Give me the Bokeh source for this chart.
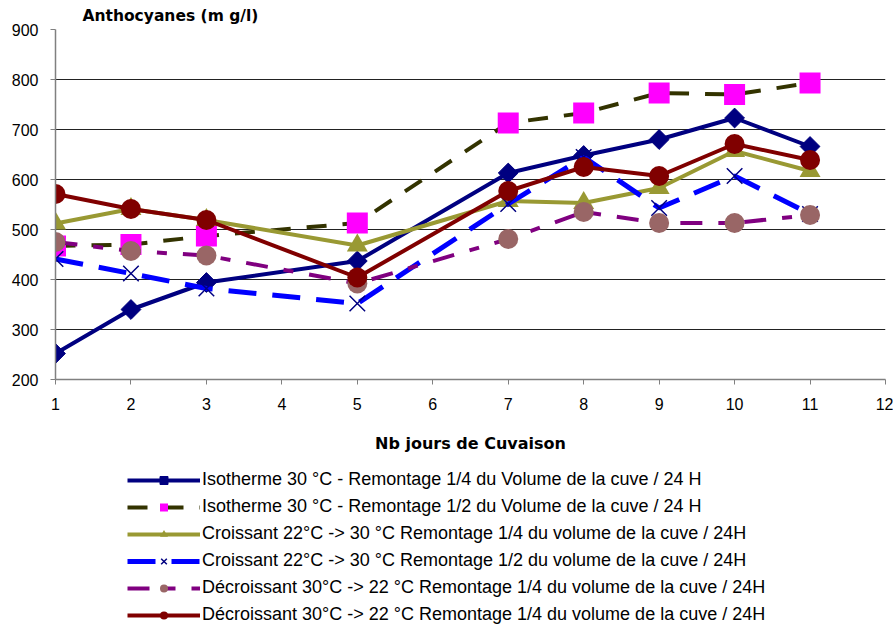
import math
from bokeh.plotting import figure
from bokeh.layouts import column
from bokeh.models import Range1d, Legend, LegendItem, FixedTicker
from bokeh.embed import file_html
from bokeh.resources import INLINE

# ---- data ----
days = [1, 2, 3, 5, 7, 8, 9, 10, 11]
iso_quart = [252, 340, 394, 437, 613, 648, 680, 723, 666]
iso_demi = [467, 470, 487, 513, 713, 733, 773, 770, 793]
cro_quart = [512, 541, 519, 468, 557, 553, 583, 657, 617]
cro_demi = [441, 412, 382, 352, 551, 645, 543, 607, 531]
dec_quart_a = [475, 457, 448, 392, 481, 535, 513, 513, 529]
dec_quart_b = [571, 541, 519, 404, 577, 625, 607, 671, 639]

labels = [
    "Isotherme 30 °C - Remontage 1/4 du Volume de la cuve / 24 H",
    "Isotherme 30 °C - Remontage 1/2 du Volume de la cuve / 24 H",
    "Croissant 22°C -> 30 °C Remontage 1/4 du volume de la cuve / 24H",
    "Croissant 22°C -> 30 °C Remontage 1/2 du volume de la cuve / 24H",
    "Décroissant 30°C -> 22 °C Remontage 1/4 du volume de la cuve / 24H",
    "Décroissant 30°C -> 22 °C Remontage 1/4 du volume de la cuve / 24H",
]
x_ticks = list(range(1, 13))
y_ticks = list(range(200, 1000, 100))

series_data = [iso_quart, iso_demi, cro_quart, cro_demi, dec_quart_a, dec_quart_b]
styles = [
    dict(lc="#000080", lw=4, dash="solid", m="square", ms=14, mf="#000080", ml="#000080", mlw=1, ang=math.pi / 4),
    dict(lc="#333300", lw=4, dash="20 16", m="square", ms=21, mf="#FF00FF", ml="#FF00FF", mlw=0, ang=0),
    dict(lc="#999933", lw=4, dash="solid", m="triangle", ms=21, mf="#999933", ml="#999933", mlw=0, ang=0),
    dict(lc="#0000FF", lw=5, dash="28 16", m="x", ms=22, mf=None, ml="#000080", mlw=1.5, ang=0),
    dict(lc="#800080", lw=4, dash="22 16 10 16", m="circle", ms=20, mf="#996666", ml="#996666", mlw=0, ang=0),
    dict(lc="#800000", lw=4, dash="solid", m="circle", ms=20, mf="#800000", ml="#800000", mlw=0, ang=0),
]

# ---- main chart ----
p = figure(width=893, height=460, x_range=Range1d(1, 12), y_range=Range1d(200, 900),
           output_backend="svg", toolbar_location=None,
           min_border_left=55, min_border_right=8, min_border_top=28, min_border_bottom=81)
p.outline_line_color = None
p.background_fill_color = "white"
p.border_fill_color = "white"

p.title.text = "Anthocyanes (m g/l)"
p.title.align = "left"
p.title.offset = 27
p.title.text_font = "DejaVu Sans"
p.title.text_font_style = "bold"
p.title.text_font_size = "15.5px"
p.title.text_color = "black"
p.title.standoff = 9

p.xgrid.visible = False
p.ygrid.grid_line_color = "#222222"
p.ygrid.grid_line_width = 1
p.ygrid.ticker = FixedTicker(ticks=y_ticks)

for ax in (p.xaxis[0], p.yaxis[0]):
    ax.axis_line_color = "#808080"
    ax.axis_line_width = 1.5
    ax.major_tick_line_color = "#808080"
    ax.major_tick_in = 0
    ax.major_tick_out = 5
    ax.minor_tick_line_color = None
    ax.major_label_text_font = "Liberation Sans"
    ax.major_label_text_font_size = "16px"
    ax.major_label_text_color = "black"

p.xaxis.ticker = FixedTicker(ticks=x_ticks)
p.yaxis.ticker = FixedTicker(ticks=y_ticks)
p.xaxis.major_label_standoff = 13
p.yaxis.major_label_standoff = 12
p.xaxis.axis_label = "Nb jours de Cuvaison"
p.xaxis.axis_label_text_font = "DejaVu Sans"
p.xaxis.axis_label_text_font_style = "bold"
p.xaxis.axis_label_text_font_size = "16px"
p.xaxis.axis_label_text_color = "black"
p.xaxis.axis_label_standoff = 21

for y, s in zip(series_data, styles):
    p.line(days, y, line_color=s["lc"], line_width=s["lw"], line_dash=s["dash"])
    p.scatter(days, y, marker=s["m"], size=s["ms"], fill_color=s["mf"],
              line_color=s["ml"], line_width=s["mlw"], angle=s["ang"])

# ---- legend panel below the chart ----
q = figure(width=893, height=167, x_range=Range1d(0, 1), y_range=Range1d(0, 1),
           output_backend="svg", toolbar_location=None,
           x_axis_type=None, y_axis_type=None, min_border=0)
q.outline_line_color = None
q.xgrid.visible = False
q.ygrid.visible = False
q.background_fill_color = "white"
q.border_fill_color = "white"

items = []
for y, s, lab in zip(series_data, styles, labels):
    r1 = q.line(days, y, line_color=s["lc"], line_width=s["lw"], line_dash=s["dash"], visible=False)
    r2 = q.scatter(days, y, marker=s["m"], size=s["ms"], fill_color=s["mf"],
                   line_color=s["ml"], line_width=s["mlw"], angle=s["ang"], visible=False)
    items.append(LegendItem(label=lab, renderers=[r1, r2]))

legend = Legend(items=items, location=(72, 2), orientation="vertical",
                glyph_width=73, glyph_height=20, label_height=20, spacing=6,
                label_standoff=2, padding=0, margin=0,
                border_line_color=None, background_fill_alpha=0,
                label_text_font="Liberation Sans", label_text_font_size="18px",
                label_text_color="black")
q.add_layout(legend, "center")

layout = column(p, q, spacing=0)
open("out.html", "w").write(file_html(layout, INLINE))
